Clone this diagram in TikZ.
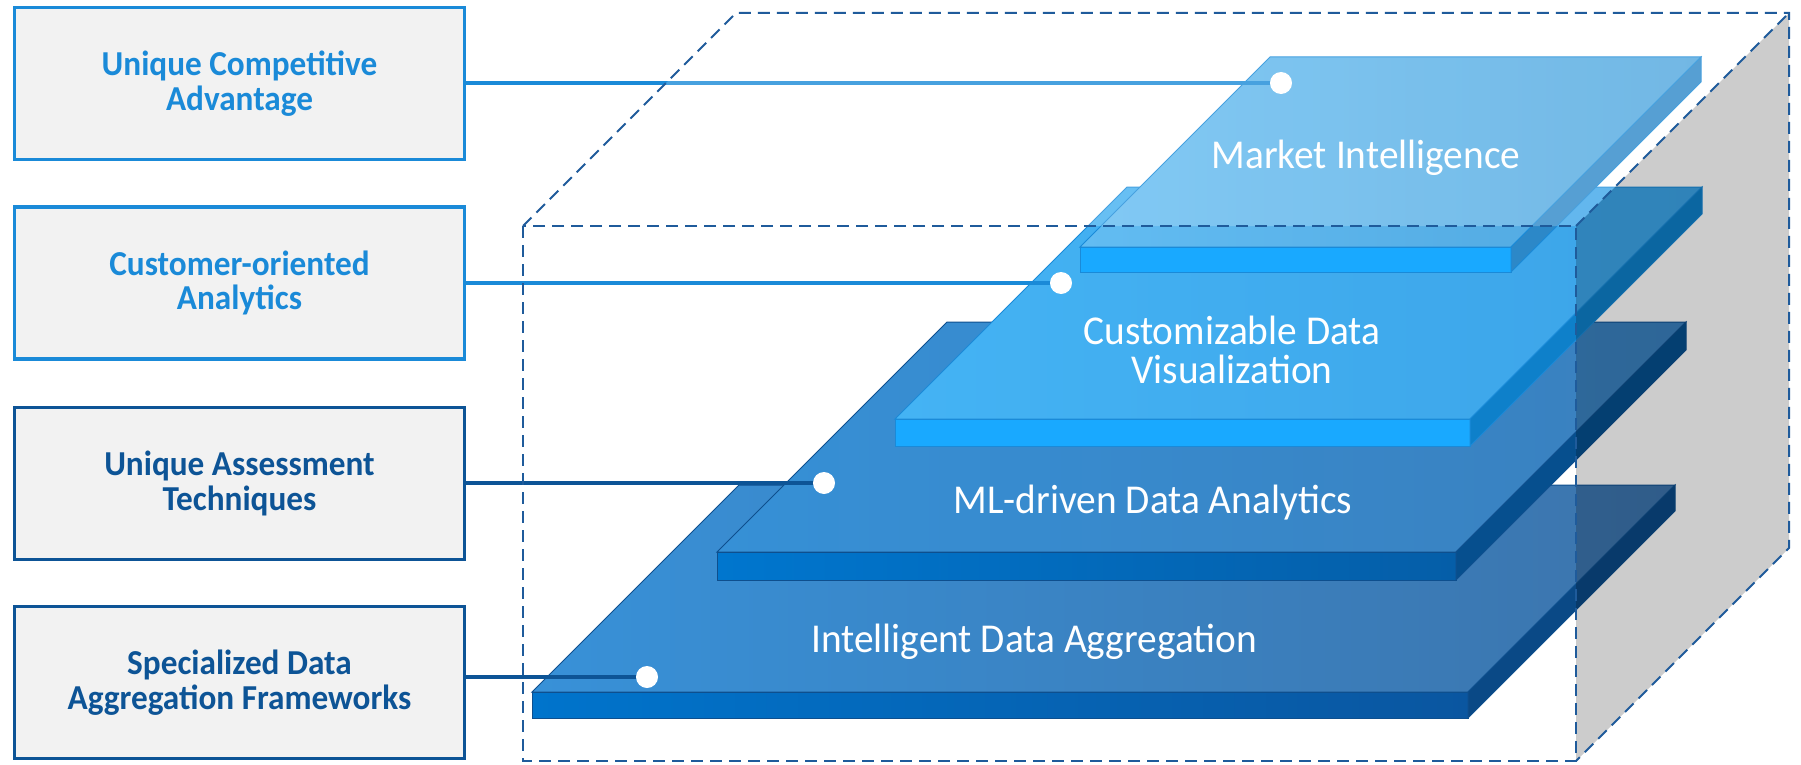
\documentclass[tikz,border=0pt]{standalone}
\usepackage{fontspec}
\setmainfont{Carlito}
\newfontfamily\labelfont[FakeStretch=0.95]{Carlito}
\newfontfamily\layerfont[FakeStretch=0.96]{Carlito}
\usetikzlibrary{positioning}

\definecolor{lightline}{HTML}{1A8AD8}
\definecolor{darkline}{HTML}{0D5496}
\definecolor{boxfill}{HTML}{F2F2F2}
\definecolor{framecol}{HTML}{1F5B9B}
% layer colours: top face, front face, side, edge
\definecolor{ida-topa}{HTML}{3891D8}
\definecolor{ida-topb}{HTML}{3C74AC}
\definecolor{ida-fronta}{HTML}{0074CC}
\definecolor{ida-frontb}{HTML}{0A56A0}
\definecolor{ida-side}{HTML}{0A4986}
\definecolor{ida-edge}{HTML}{0E4F8E}
\definecolor{ml-topa}{HTML}{3690D6}
\definecolor{ml-topb}{HTML}{3A80BE}
\definecolor{ml-fronta}{HTML}{0076CE}
\definecolor{ml-frontb}{HTML}{055EA8}
\definecolor{ml-side}{HTML}{064F8E}
\definecolor{ml-edge}{HTML}{0E4F8E}
\definecolor{cdv-topa}{HTML}{44B3F4}
\definecolor{cdv-topb}{HTML}{3CA4E8}
\definecolor{cdv-fronta}{HTML}{19A9FF}
\definecolor{cdv-frontb}{HTML}{19A9FF}
\definecolor{cdv-side}{HTML}{0E80CA}
\definecolor{cdv-edge}{HTML}{1A8AD8}
\definecolor{mi-topa}{HTML}{62BCF2}
\definecolor{mi-topb}{HTML}{4FA6DE}
\definecolor{mi-fronta}{HTML}{19A9FF}
\definecolor{mi-frontb}{HTML}{19A9FF}
\definecolor{mi-side}{HTML}{2C88C8}
\definecolor{mi-edge}{HTML}{1A8AD8}

\begin{document}
\begin{tikzpicture}[x=1pt,y=-1pt]
    \tikzstyle{infobox}=[draw, line width=3.5pt, fill=boxfill, minimum width=450pt, minimum height=152pt, inner sep=0pt, align=center, font=\labelfont\bfseries\fontsize{35}{34.5}\selectfont]
    \tikzstyle{dot}=[circle, fill=white, minimum size=22pt, inner sep=0pt]
    \tikzstyle{link}=[line width=3.2pt]
    \tikzstyle{frame}=[framecol, line width=2pt, dash pattern=on 12pt off 7pt]
    \tikzstyle{layertext}=[text=white, align=center, inner sep=0pt, font=\layerfont\fontsize{41}{39}\selectfont]

    \useasboundingbox (0,0) rectangle (1801,765);

    % boxes on the left
    \foreach \name/\y/\col/\txt in {1/83.5/lightline/{Unique Competitive\\Advantage},
                                    2/283/lightline/{Customer-oriented\\Analytics},
                                    3/483.5/darkline/{Unique Assessment\\Techniques},
                                    4/682.5/darkline/{Specialized Data\\Aggregation Frameworks}}
        \node[infobox, draw=\col, text=\col] (B-\name) at (239.5,\y) {\txt};

    % corners of the dashed cube
    \coordinate (F-tl) at (523,226);
    \coordinate (F-tr) at (1576,226);
    \coordinate (F-br) at (1576,761);
    \coordinate (F-bl) at (523,761);
    \coordinate (K-tl) at (736,13);
    \coordinate (K-tr) at (1789,13);
    \coordinate (K-br) at (1789,548);

    % layers, bottom to top
    \foreach \n/\xl/\xr/\yt/\d/\t in {ida/532/1468/692/207/26, ml/717/1456/552/230/28,
                                      cdv/895/1470/419/232/27, mi/1080/1511/247/190/25}{
        \shade[draw=\n-edge, line width=1pt, left color=\n-topa, right color=\n-topb]
            (\xl,\yt) -- (\xr,\yt) -- ({\xr+\d},{\yt-\d}) -- ({\xl+\d},{\yt-\d}) -- cycle;
        \shade[draw=\n-edge, line width=1pt, left color=\n-fronta, right color=\n-frontb]
            (\xl,\yt) rectangle (\xr,{\yt+\t});
        \fill[\n-side, draw=\n-edge, line width=1pt]
            (\xr,\yt) -- ({\xr+\d},{\yt-\d}) -- ({\xr+\d},{\yt-\d+\t}) -- (\xr,{\yt+\t}) -- cycle;
    }

    % connectors
    \foreach \name/\x/\y/\col in {1/1281/83/lightline, 2/1061/283/lightline,
                                  3/824/483/darkline, 4/647/677/darkline}{
        \node[dot] (D-\name) at (\x,\y) {};
        \draw[link, \col] (B-\name.east |- D-\name) -- (D-\name);
    }

    % faces of the cube
    \fill[white, fill opacity=0.2] (F-tl) -- (F-tr) -- (K-tr) -- (K-tl) -- cycle;
    \fill[black, fill opacity=0.2] (F-tr) -- (K-tr) -- (K-br) -- (F-br) -- cycle;
    \draw[frame] (F-tl) rectangle (F-br);
    \draw[frame] (F-tl) -- (K-tl) -- (K-tr) -- (K-br) -- (F-br);
    \draw[frame] (F-tr) -- (K-tr);

    % layer labels
    \foreach \n/\x/\y/\txt in {mi/1366/158/{Market Intelligence},
                               cdv/1232/350/{Customizable Data\\Visualization},
                               ml/1153/503/{ML-driven Data Analytics},
                               ida/1034/642/{Intelligent Data Aggregation}}
        \node[layertext] (T-\n) at (\x,\y) {\txt};
\end{tikzpicture}
\end{document}
